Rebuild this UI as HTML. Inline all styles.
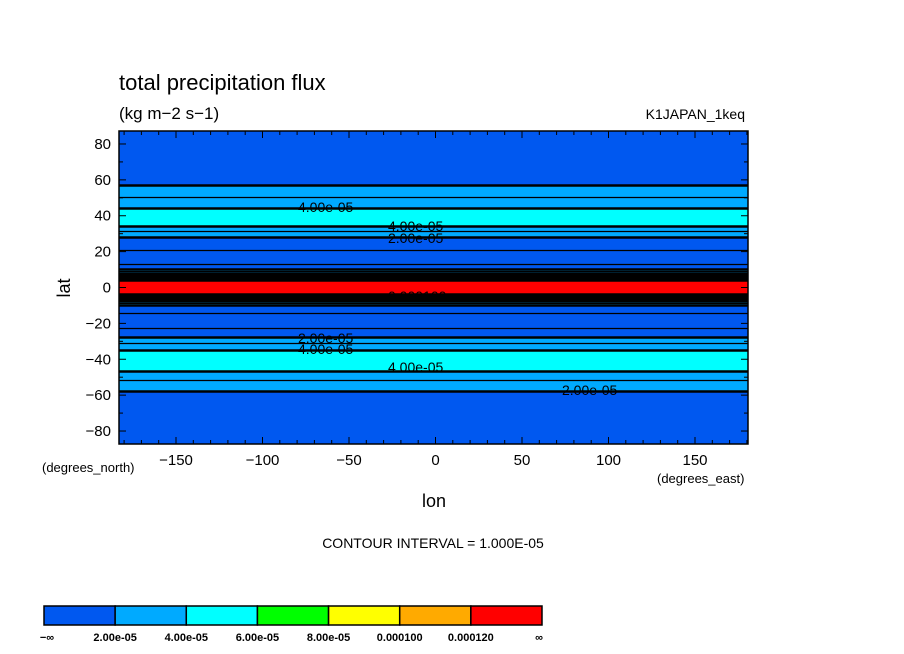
<!DOCTYPE html>
<html><head><meta charset="utf-8"><style>
body{margin:0;background:#fff;}
svg{display:block;font-family:"Liberation Sans",sans-serif;}
</style></head><body>
<svg id="chart" width="904" height="654" viewBox="0 0 904 654">
<rect width="904" height="654" fill="#fff"/>
<text x="119" y="90" font-size="22">total precipitation flux</text>
<text x="119" y="119" font-size="17">(kg m−2 s−1)</text>
<text x="745" y="119" font-size="14" text-anchor="end">K1JAPAN_1keq</text>
<g id="plot"></g>
<g id="axes"></g>
<text x="70" y="288" font-size="18" text-anchor="middle" transform="rotate(-90 70 288)">lat</text>
<text x="434" y="507" font-size="18" text-anchor="middle">lon</text>
<text x="42" y="472" font-size="13">(degrees_north)</text>
<text x="657" y="483" font-size="13">(degrees_east)</text>
<text x="433" y="548" font-size="14" text-anchor="middle">CONTOUR INTERVAL = 1.000E-05</text>
<g id="cbar"></g>
</svg>
<script>
const lats = [90,80,70,60,57,50,44,40,34,31,28,24,20,15,12,10,8,5,4,0,-4,-5,-8,-10,-13,-18,-22,-25,-28,-31,-35,-41,-47,-52,-58,-65,-75,-90];
const precip = [1.2,1.3,1.5,1.8,2.0,3.0,4.0,4.6,4.0,3.0,2.0,1.4,0.9,0.8,1.1,2.0,4.0,9.0,12.1,12.8,12.1,9.0,4.0,2.0,1.1,0.8,0.9,1.4,2.0,3.0,4.0,4.6,4.0,3.0,2.0,1.7,1.4,1.2];
const levelLabels = ["−∞","2.00e-05","4.00e-05","6.00e-05","8.00e-05","0.000100","0.000120","∞"];
const colors = ["#0058f0","#00aaff","#00ffff","#00ff00","#ffff00","#ffaa00","#ff0000"];
const lonTicks = [-150,-100,-50,0,50,100,150];
const latTicks = [80,60,40,20,0,-20,-40,-60,-80];

const NS="http://www.w3.org/2000/svg";
const X0=119,X1=748,Y0=131,Y1=444;
const xs = lon => 435.5 + lon*1.73;
const ys = lat => 287.5 - lat*1.794;
const latOf = y => (287.5 - y)/1.794;
function mk(tag, attrs, parent){const e=document.createElementNS(NS,tag);for(const k in attrs)e.setAttribute(k,attrs[k]);parent.appendChild(e);return e;}
function val(lat){
  for(let i=0;i<lats.length-1;i++){
    if(lat<=lats[i]&&lat>=lats[i+1]){const t=(lats[i]-lat)/(lats[i]-lats[i+1]);return precip[i]+(precip[i+1]-precip[i])*t;}
  }
  return precip[precip.length-1];
}
function band(v){return Math.max(0,Math.min(6,Math.floor(v/2)));}
const plot=document.getElementById('plot');
for(let y=Y0;y<Y1;y++){
  const r=mk('rect',{x:X0,y:y,width:X1-X0,height:1.05,fill:colors[band(val(latOf(y+0.5)))]},plot);
  
  
}
for(let y=Y0;y<Y1;y++){
  const a=val(latOf(y)),b=val(latOf(y+1));
  for(let k=1;k<=15;k++){
    if((a-k)*(b-k)<0){
      const l=mk('line',{x1:X0,x2:X1,y1:y+0.5,y2:y+0.5,stroke:'#000','stroke-width':k%2==0?2.4:1.3},plot);
      
      
    }
  }
}
const labs=[[298,212,"4.00e-05"],[388,231,"4.00e-05"],[388,243,"2.00e-05"],[298,343,"2.00e-05"],[298,354,"4.00e-05"],[388,372,"4.00e-05"],[562,395,"2.00e-05"],[388,301,"0.000100"]];
labs.forEach(p=>{const t=mk('text',{x:p[0],y:p[1],'font-size':14},plot);t.textContent=p[2];
  
  });
const axes=document.getElementById('axes');
mk('rect',{x:X0,y:Y0,width:X1-X0,height:Y1-Y0,fill:'none',stroke:'#000','stroke-width':1.5},axes);
for(let lon=-180;lon<=180;lon+=10){const x=xs(lon);if(x<X0||x>X1)continue;const L=lon%50==0?7:4;
  mk('line',{x1:x,x2:x,y1:Y1,y2:Y1-L,stroke:'#000'},axes);mk('line',{x1:x,x2:x,y1:Y0,y2:Y0+L,stroke:'#000'},axes);}
for(let lat=-80;lat<=80;lat+=10){const y=ys(lat);const L=lat%20==0?7:4;
  mk('line',{x1:X0,x2:X0+L,y1:y,y2:y,stroke:'#000'},axes);mk('line',{x1:X1,x2:X1-L,y1:y,y2:y,stroke:'#000'},axes);}
lonTicks.forEach(v=>{const t=mk('text',{x:xs(v),y:465,'font-size':15,'text-anchor':'middle'},axes);t.textContent=v<0?'−'+(-v):v;
  
  });
latTicks.forEach(v=>{const t=mk('text',{x:111,y:ys(v)+5,'font-size':15,'text-anchor':'end'},axes);t.textContent=v<0?'−'+(-v):v;
  
  });
const cb=document.getElementById('cbar');
const cx0=44,cw=(542-44)/7;
colors.forEach((c,i)=>{const r=mk('rect',{x:cx0+i*cw,y:606,width:cw,height:19,fill:c,stroke:'#000','stroke-width':1.5},cb);
  
  });
levelLabels.forEach((s,i)=>{const t=mk('text',{x:cx0+i*cw+(i==0?3:i==7?-3:0),y:641,'font-size':11,'font-weight':'bold','text-anchor':'middle'},cb);t.textContent=s;
  
  });
</script>
</body></html>
